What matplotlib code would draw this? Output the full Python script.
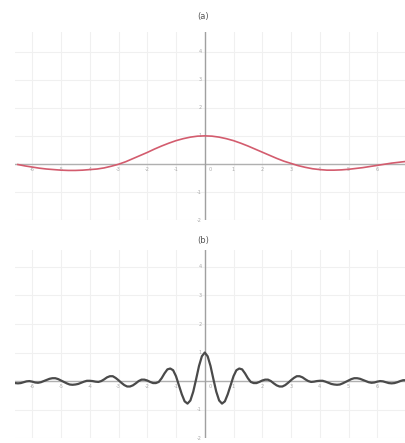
import numpy as np
import matplotlib
matplotlib.use("Agg")
import matplotlib.pyplot as plt

# panel (a): wide sinc-like pulse, sampled every 0.25
xa = np.arange(-6.5, 7.01, 0.25)
ya = [-0.02, -0.07, -0.11, -0.15, -0.18, -0.20, -0.22, -0.23, -0.23, -0.22,
      -0.20, -0.18, -0.14, -0.08, -0.01, 0.08, 0.19, 0.30, 0.41, 0.53,
      0.64, 0.74, 0.83, 0.90, 0.955, 0.99, 1.00, 0.99, 0.955, 0.90,
      0.83, 0.74, 0.64, 0.53, 0.42, 0.31, 0.20, 0.10, 0.02, -0.06,
      -0.12, -0.17, -0.20, -0.22, -0.22, -0.21, -0.19, -0.16, -0.13, -0.09,
      -0.05, -0.01, 0.03, 0.06, 0.09]

# panel (b): fast oscillating pulse, sampled every 0.1
xb = np.round(np.arange(-6.6, 7.001, 0.1), 2)
yb = [-0.07, -0.08, -0.07, -0.04, -0.01, 0.00, -0.02, -0.05, -0.06, -0.04,
      0.00, 0.04, 0.08, 0.10, 0.10, 0.07, 0.02, -0.03, -0.08, -0.12,
      -0.13, -0.12, -0.10, -0.06, -0.02, 0.01, 0.01, 0.00, -0.02, -0.03,
      0.00, 0.06, 0.13, 0.17, 0.17, 0.11, 0.03, -0.06, -0.14, -0.19,
      -0.19, -0.15, -0.08, 0.00, 0.05, 0.05, 0.02, -0.03, -0.07, -0.07,
      -0.03, 0.10, 0.27, 0.41, 0.44, 0.38, 0.17, -0.14, -0.46, -0.71,
      -0.79, -0.68, -0.37, 0.07, 0.53, 0.87,
      1.00,
      0.87, 0.53, 0.07, -0.37, -0.68, -0.79, -0.71, -0.46, -0.14, 0.17,
      0.38, 0.44, 0.41, 0.27, 0.10, -0.03, -0.07, -0.07, -0.03, 0.02,
      0.05, 0.05, 0.00, -0.08, -0.15, -0.19, -0.19, -0.14, -0.06, 0.03,
      0.11, 0.17, 0.17, 0.13, 0.06, 0.00, -0.03, -0.02, 0.00, 0.01,
      0.01, -0.02, -0.06, -0.10, -0.12, -0.13, -0.12, -0.08, -0.03, 0.02,
      0.07, 0.10, 0.10, 0.08, 0.04, 0.00, -0.04, -0.06, -0.05, -0.02,
      0.00, -0.01, -0.04, -0.07, -0.08, -0.07, -0.04, 0.00, 0.03, 0.03]

x_ticks = [-6, -5, -4, -3, -2, -1, 1, 2, 3, 4, 5, 6]
y_ticks = [-2, -1, 1, 2, 3, 4]

fig = plt.figure(figsize=(4.06, 4.43), dpi=100)

def setup(ax, ytop):
    ax.set_xlim(-6.6, 7.0)
    ax.set_ylim(-2.0, ytop)
    for s in ax.spines.values():
        s.set_visible(False)
    ax.set_xticks([])
    ax.set_yticks([])
    for gx in range(-6, 8):
        ax.axvline(gx, color="#f0f0f0", lw=0.8, zorder=0)
    for gy in range(-2, 5):
        ax.axhline(gy, color="#f0f0f0", lw=0.8, zorder=0)
    ax.axhline(0, color="#b0b0b0", lw=1.0, zorder=1)
    ax.axvline(0, color="#a0a0a0", lw=1.0, zorder=1)
    for t in x_ticks:
        ax.text(t, -0.12, str(t), fontsize=3.5, color="#aaaaaa",
                ha="center", va="top")
    for t in y_ticks:
        ax.text(-0.1, t, str(t), fontsize=3.5, color="#aaaaaa",
                ha="right", va="center")
    ax.text(0.15, -0.1, "0", fontsize=3.5, color="#aaaaaa", ha="left", va="top")

ax1 = fig.add_axes([0.037, 0.503, 0.963, 0.425])
setup(ax1, 4.7)
ax1.plot(xa, ya, color="#d35c6e", lw=1.2, zorder=3)

ax2 = fig.add_axes([0.037, 0.011, 0.963, 0.425])
setup(ax2, 4.6)
ax2.plot(xb, yb, color="#4a4a4a", lw=1.6, zorder=3)

fig.text(0.5, 1 - 16 / 443, "(a)", fontsize=6, color="#555555", ha="center", va="center")
fig.text(0.5, 1 - 240 / 443, "(b)", fontsize=6, color="#555555", ha="center", va="center")

fig.savefig("out.png", dpi=100)
